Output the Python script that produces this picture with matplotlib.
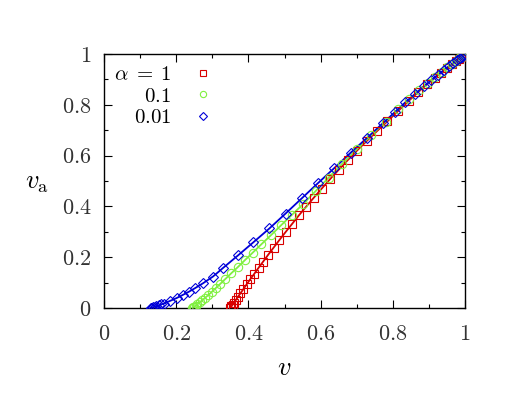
import matplotlib
matplotlib.use('Agg')
import matplotlib.pyplot as plt
from matplotlib.ticker import MultipleLocator

# alpha = 1 (red squares)
v_red = [0.350, 0.351, 0.353, 0.356, 0.360, 0.365, 0.371, 0.378, 0.386, 0.395,
         0.405, 0.416, 0.428, 0.441, 0.455, 0.470, 0.486, 0.503, 0.521, 0.540,
         0.560, 0.581, 0.603, 0.626, 0.650, 0.675, 0.701, 0.728, 0.756, 0.785,
         0.815, 0.844, 0.871, 0.895, 0.916, 0.934, 0.950, 0.963, 0.974, 0.983,
         0.990, 0.995, 1.000]
va_red = [0.000, 0.002, 0.006, 0.013, 0.021, 0.031, 0.044, 0.058, 0.074, 0.093,
          0.113, 0.134, 0.158, 0.183, 0.210, 0.238, 0.268, 0.299, 0.331, 0.365,
          0.399, 0.434, 0.470, 0.507, 0.544, 0.582, 0.620, 0.658, 0.696, 0.735,
          0.776, 0.815, 0.851, 0.881, 0.906, 0.926, 0.944, 0.959, 0.971, 0.981,
          0.989, 0.995, 1.000]

# alpha = 0.1 (green circles)
v_green = [0.245, 0.247, 0.250, 0.254, 0.259, 0.265, 0.272, 0.280, 0.289, 0.299,
           0.310, 0.322, 0.336, 0.352, 0.370, 0.390, 0.412, 0.436, 0.462, 0.490,
           0.520, 0.552, 0.586, 0.622, 0.660, 0.700, 0.740, 0.780, 0.815, 0.846,
           0.873, 0.897, 0.918, 0.936, 0.951, 0.964, 0.975, 0.984, 0.991, 0.996,
           1.000]
va_green = [0.000, 0.002, 0.005, 0.009, 0.015, 0.022, 0.030, 0.040, 0.051, 0.064,
            0.079, 0.095, 0.114, 0.136, 0.160, 0.188, 0.218, 0.251, 0.286, 0.325,
            0.366, 0.410, 0.460, 0.513, 0.568, 0.625, 0.680, 0.734, 0.783, 0.823,
            0.857, 0.885, 0.910, 0.930, 0.947, 0.961, 0.973, 0.983, 0.990, 0.996,
            1.000]

# alpha = 0.01 (blue diamonds)
v_blue = [0.130, 0.131, 0.133, 0.136, 0.140, 0.145, 0.151, 0.158, 0.165, 0.183,
          0.201, 0.219, 0.235, 0.252, 0.275, 0.302, 0.330, 0.372, 0.414, 0.458,
          0.503, 0.548, 0.593, 0.638, 0.683, 0.728, 0.772, 0.805, 0.835, 0.862,
          0.886, 0.907, 0.925, 0.941, 0.955, 0.967, 0.977, 0.985, 0.991, 0.996,
          1.000]
va_blue = [0.000, 0.000, 0.001, 0.003, 0.005, 0.007, 0.010, 0.014, 0.017, 0.028,
           0.039, 0.052, 0.064, 0.078, 0.098, 0.124, 0.158, 0.208, 0.259, 0.313,
           0.372, 0.432, 0.492, 0.551, 0.611, 0.669, 0.727, 0.770, 0.810, 0.843,
           0.873, 0.897, 0.918, 0.936, 0.951, 0.964, 0.975, 0.984, 0.990, 0.996,
           1.000]

labels = [r'$\alpha\;=\;1$', r'$0.1$', r'$0.01$']
ticks = [0, 0.2, 0.4, 0.6, 0.8, 1]
tick_labels = ['$0$', '$0.2$', '$0.4$', '$0.6$', '$0.8$', '$1$']

plt.rcParams['mathtext.fontset'] = 'cm'
plt.rcParams['font.family'] = ['cmr10', 'DejaVu Sans']


def main():
    fig = plt.figure(figsize=(5.18, 3.98), dpi=100)
    ax = fig.add_axes([104 / 518, 1 - 308 / 398, 361 / 518, 254 / 398])

    series = [
        (v_red, va_red, '#d80000', 's', 5.5),
        (v_green, va_green, '#80f040', 'o', 6.0),
        (v_blue, va_blue, '#0000d8', 'D', 5.0),
    ]
    for (x, y, c, m, ms), lab in zip(series, labels):
        ax.plot(x, y, '-', color=c, lw=1.3, zorder=2)
        ax.plot(x, y, ls='none', marker=m, ms=ms,
                mfc='none', mec=c, mew=0.8, label=lab, zorder=3)

    ax.set_xlim(0, 1)
    ax.set_ylim(0, 1)
    ax.set_xticks(ticks)
    ax.set_xticklabels(tick_labels)
    ax.set_yticks(ticks)
    ax.set_yticklabels(tick_labels)
    ax.xaxis.set_minor_locator(MultipleLocator(0.1))
    ax.yaxis.set_minor_locator(MultipleLocator(0.1))
    ax.tick_params(which='both', direction='in', top=True, right=True,
                   labelsize=16, width=0.8, labelcolor='#333333')
    ax.tick_params(which='major', length=6)
    ax.tick_params(which='minor', length=3)
    ax.tick_params(axis='x', which='major', pad=12)
    ax.tick_params(axis='y', which='major', pad=9)
    for s in ax.spines.values():
        s.set_linewidth(1.0)

    ax.set_xlabel(r'$v$', fontsize=19)
    ax.xaxis.set_label_coords(0.5, -0.19)
    ax.set_ylabel(r'$v_{\rm a}$', fontsize=19, rotation=0, va='center')
    ax.yaxis.set_label_coords(-0.185, 0.49)

    ax.legend(loc='upper right', bbox_to_anchor=(0.302, 0.972), frameon=False,
              markerfirst=False, handlelength=0.6,
              handletextpad=1.2, labelspacing=0.15, markerscale=0.75,
              borderaxespad=0.0, borderpad=0.2, prop={'size': 15})

    fig.savefig('out.png', dpi=100)


if __name__ == '__main__':
    main()
